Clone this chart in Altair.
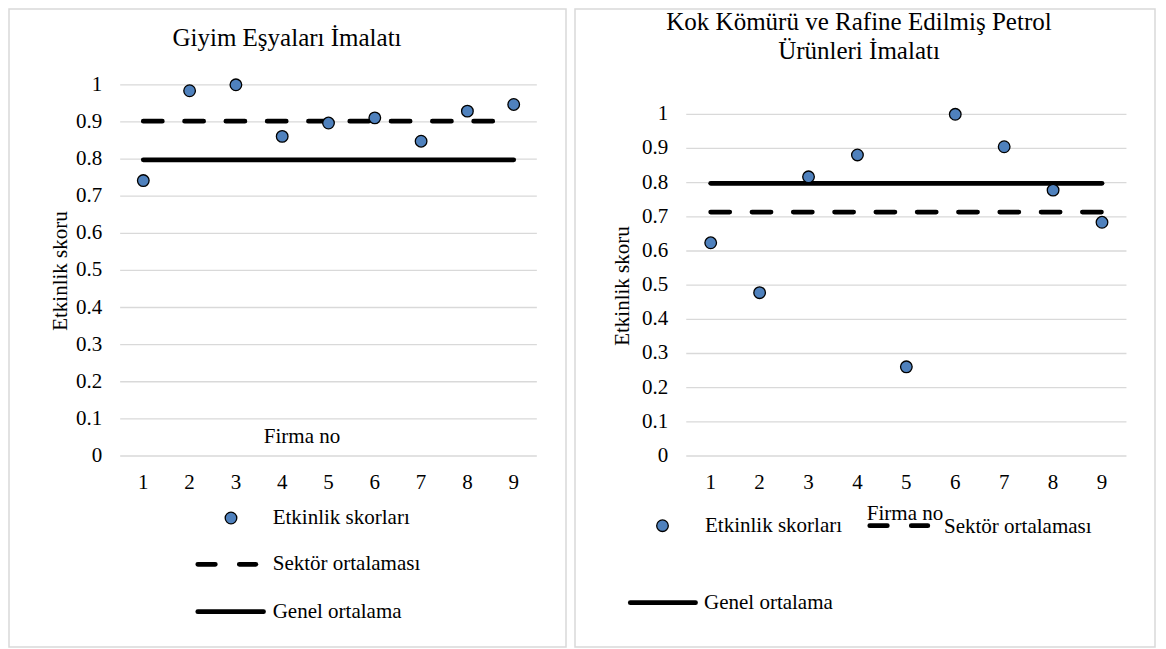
import altair as alt
import pandas as pd

# ---------------- data ----------------
firms = [1, 2, 3, 4, 5, 6, 7, 8, 9]
giyim_scores = [0.742, 0.984, 1.0, 0.861, 0.897, 0.911, 0.848, 0.929, 0.947]
giyim_sector = 0.902
kok_scores = [0.624, 0.478, 0.817, 0.881, 0.261, 1.0, 0.905, 0.778, 0.684]
kok_sector = 0.714
general_mean = 0.798
y_ticks = [0, 0.1, 0.2, 0.3, 0.4, 0.5, 0.6, 0.7, 0.8, 0.9, 1]
y_tick_labels = ["0", "0.1", "0.2", "0.3", "0.4", "0.5", "0.6", "0.7", "0.8", "0.9", "1"]
legend_labels = ["Etkinlik skorları", "Sektör ortalaması", "Genel ortalama"]
x_title = "Firma no"
y_title = "Etkinlik skoru"
title_left = "Giyim Eşyaları İmalatı"
title_right = "Kok Kömürü ve Rafine Edilmiş Petrol\nÜrünleri İmalatı"

FONT = "Liberation Serif"
BLUE = "#4f81bd"
GRID = "#d9d9d9"
H = 638
DASH = [19, 22.3]


def dom(v0, p0, v1, p1, size):
    s = (p1 - p0) / (v1 - v0)
    d0 = v0 - p0 / s
    return [d0, d0 + size / s]


one = pd.DataFrame({"a": [0]})


def txt(s, x, y, size=21, align="left", baseline="middle", angle=0, **kw):
    return alt.Chart(one).mark_text(
        font=FONT, fontSize=size, align=align, baseline=baseline, angle=angle,
        color="black", **kw
    ).encode(x=alt.value(x), y=alt.value(y), text=alt.value(s))


def lrule(x1, x2, y, dash=None):
    kw = dict(color="black", strokeWidth=4.8, strokeCap="round")
    if dash:
        kw["strokeDash"] = dash
    return alt.Chart(one).mark_rule(**kw).encode(
        x=alt.value(x1), x2=alt.value(x2), y=alt.value(y))


def lpoint(x, y):
    return alt.Chart(one).mark_circle(
        size=135, color=BLUE, stroke="black", strokeWidth=1.3, opacity=1
    ).encode(x=alt.value(x), y=alt.value(y))


def panel(W, scores, sector, xpix, ypix, title, tpos, ytpos, xtpos, leg):
    xs = alt.Scale(domain=dom(1, xpix[0], 9, xpix[1], W), nice=False, zero=False)
    ys = alt.Scale(domain=dom(0, H - ypix[0], 1, H - ypix[1], H), nice=False, zero=False)

    df = pd.DataFrame({
        "firma": firms,
        "skor": scores,
        "sektor": [sector] * len(firms),
        "genel": [general_mean] * len(firms),
        "zero": [0] * len(firms),
    })
    tick_df = pd.DataFrame({
        "tick": y_ticks,
        "label": y_tick_labels,
        "x0": [min(firms) - 0.5] * len(y_ticks),
        "x1": [max(firms) + 0.5] * len(y_ticks),
    })

    X = lambda f: alt.X(f, scale=xs, axis=None)
    Y = lambda f: alt.Y(f, scale=ys, axis=None)

    grid = alt.Chart(tick_df).mark_rule(color=GRID, strokeWidth=1.3).encode(
        x=X("x0:Q"), x2="x1:Q", y=Y("tick:Q"))
    ylab = alt.Chart(tick_df).mark_text(
        font=FONT, fontSize=21, align="right", baseline="middle", dx=-18, color="black"
    ).encode(x=X("x0:Q"), y=Y("tick:Q"), text="label:N")
    xlab = alt.Chart(df).mark_text(
        font=FONT, fontSize=21, align="center", baseline="middle", dy=27, color="black"
    ).encode(x=X("firma:Q"), y=Y("zero:Q"), text="firma:N")
    gen = alt.Chart(df).mark_line(color="black", strokeWidth=4.8, strokeCap="round").encode(
        x=X("firma:Q"), y=Y("genel:Q"))
    sec = alt.Chart(df).mark_line(color="black", strokeWidth=4.8, strokeCap="round",
                                  strokeDash=DASH).encode(
        x=X("firma:Q"), y=Y("sektor:Q"))
    pts = alt.Chart(df).mark_circle(size=135, color=BLUE, stroke="black",
                                    strokeWidth=1.3, opacity=1).encode(
        x=X("firma:Q"), y=Y("skor:Q"))

    layers = [grid, gen, sec, pts, ylab, xlab,
              txt(title, tpos[0], tpos[1], size=25, align="center",
                  baseline="alphabetic", lineBreak="\n", lineHeight=29),
              txt(y_title, ytpos[0], ytpos[1], align="center", baseline="alphabetic", angle=270),
              txt(x_title, xtpos[0], xtpos[1], align="center")]
    # legend
    (px, py), (dx1, dx2, dy), (sx1, sx2, sy), texts = leg
    layers += [lpoint(px, py), lrule(dx1, dx2, dy, dash=[17.5, 24]), lrule(sx1, sx2, sy)]
    for lab, (lx, ly) in zip(legend_labels, texts):
        layers.append(txt(lab, lx, ly))
    return alt.layer(*layers).properties(width=W, height=H)


left = panel(
    557, giyim_scores, giyim_sector,
    xpix=(134.3, 504.7), ypix=(447, 75.8),
    title=title_left, tpos=(278, 37), ytpos=(58, 262), xtpos=(293, 428),
    leg=((222, 509), (188.8, 246.8, 555.3), (188.8, 254.5, 602.7),
         [(263.7, 509), (263.7, 555.3), (263.7, 602.7)]),
)
right = panel(
    580, kok_scores, kok_sector,
    xpix=(135.7, 527), ypix=(447, 105.3),
    title=title_right, tpos=(284, 21), ytpos=(54, 277), xtpos=(330, 505),
    leg=((87.5, 516.7), (294.8, 352.8, 516.7), (55.3, 120.5, 593.7),
         [(130, 517), (369, 518), (129, 593.7)]),
)

chart = alt.hconcat(left, right, spacing=7).properties(padding=0).configure_view(
    stroke=GRID, strokeWidth=1.5
)

chart.save("out.html", embed_options={"renderer": "svg", "actions": False})
